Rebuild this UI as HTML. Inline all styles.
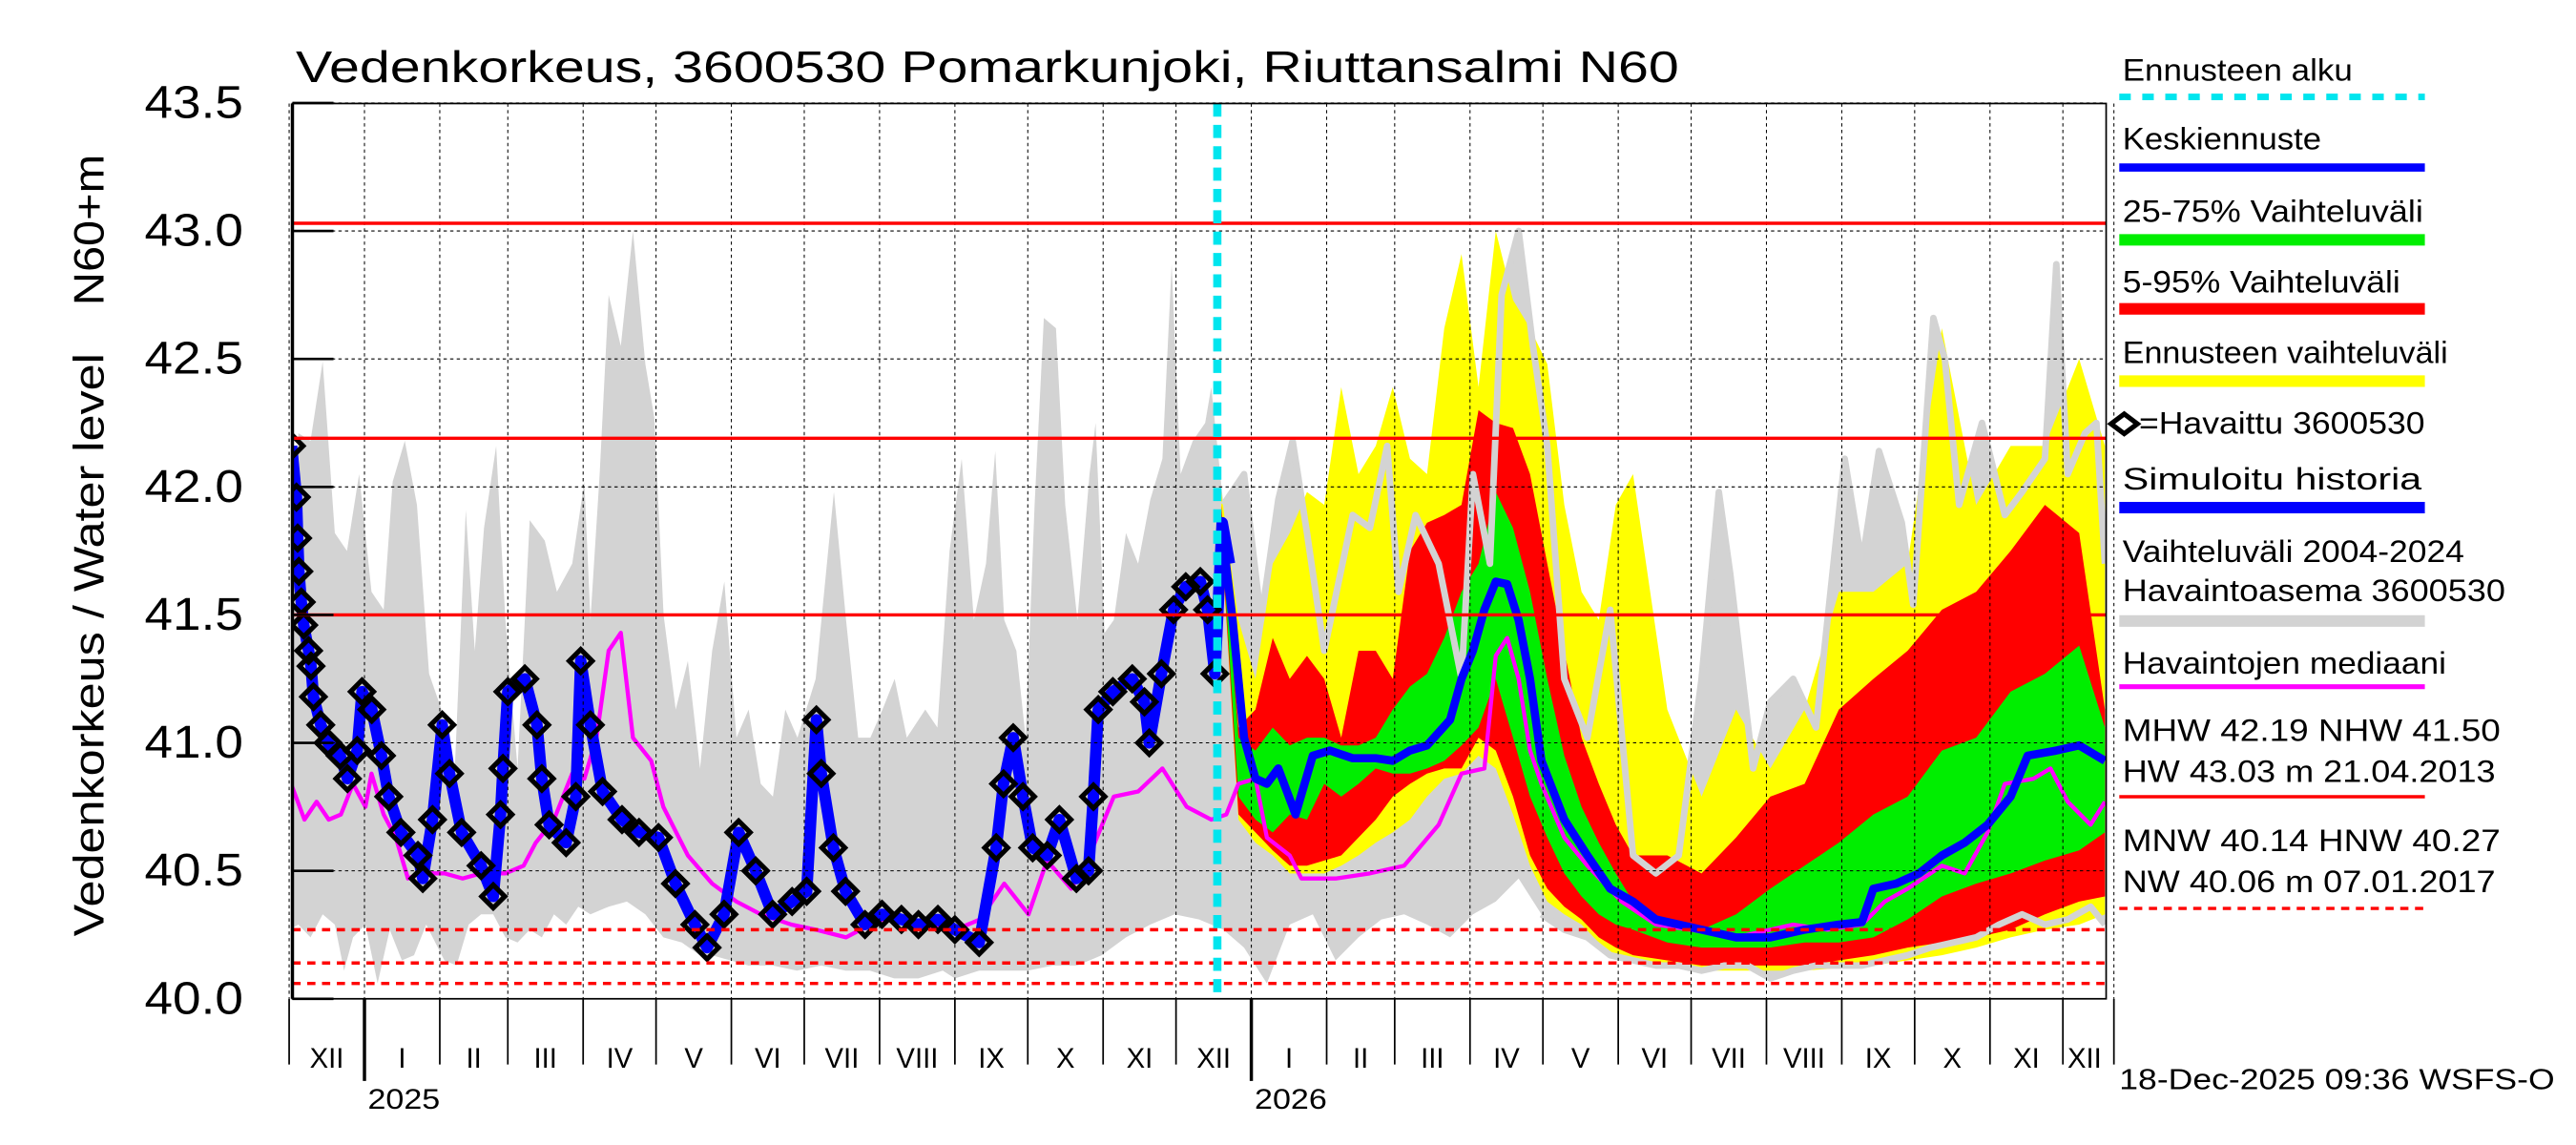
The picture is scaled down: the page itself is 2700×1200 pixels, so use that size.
<!DOCTYPE html>
<html><head><meta charset="utf-8"><style>
html,body{margin:0;padding:0;background:#fff}
svg{display:block}
text{font-family:"Liberation Sans",sans-serif;fill:#000}
</style></head><body>
<svg id="c" width="2700" height="1200" viewBox="0 0 1568 697" preserveAspectRatio="none" xmlns="http://www.w3.org/2000/svg">
<rect width="1568" height="697" fill="#fff"/>
<g id="plot"></g>
<text x="180" y="50" font-size="27" textLength="842" lengthAdjust="spacingAndGlyphs">Vedenkorkeus, 3600530 Pomarkunjoki, Riuttansalmi N60</text>
<text transform="translate(63,570) rotate(-90)" font-size="26" textLength="355" lengthAdjust="spacingAndGlyphs">Vedenkorkeus / Water level</text>
<text transform="translate(63,186) rotate(-90)" font-size="26" textLength="92" lengthAdjust="spacingAndGlyphs">N60+m</text>
<text x="1290" y="663" font-size="18" textLength="265" lengthAdjust="spacingAndGlyphs">18-Dec-2025 09:36 WSFS-O</text>
<g id="legend"></g>
</svg>
<script>
// ---- data ----
const yTicks=[40.0,40.5,41.0,41.5,42.0,42.5,43.0,43.5];
const monthStarts=[0,31,62,90,121,151,182,212,243,274,304,335,365,396,427,455,486,516,547,577,608,639,669,700,730,751];
const monthLabels=["XII","I","II","III","IV","V","VI","VII","VIII","IX","X","XI","XII","I","II","III","IV","V","VI","VII","VIII","IX","X","XI","XII"];
const refSolid=[43.03,42.19,41.50];
const refDashed=[40.27,40.14,40.06];
const forecastStartDay=382;
const histMaxDays=[0,3.8,8.8,13.8,18.8,23.8,28.8,33.9,38.9,42.6,47.6,52.6,57.6,62.7,67.7,72.7,76.4,80.2,85.2,89,94,99,105.2,110.2,116.5,121.5,124,127.8,131.5,136.5,141.5,146.6,150.3,154.1,159.1,164.1,169.1,174.1,179.1,184.1,189.1,194.1,199.1,204.2,209.2,216.7,224.2,229.2,234.2,239.2,244.2,249.2,254.2,261.8,266.8,271.8,276.8,281.8,286.8,290.6,294.3,299.3,303.1,306.8,310.6,315.6,319.4,324.4,329.4,331.9,335.6,339.4,344.4,349.4,354.4,359.4,363.2,366.9,371.9,377,379.5,384.5,393,400,407.1,413,418.9,426,437.7,444.8,451.9,456.6,463.6,473.1,482.5,487.2,494.2,499,506,511.9,517.8,524.8,534.3,543.7,553.1,562.5,571.9,581.3,588.4,593.1,602.5,609.6,619,628.4,640.2,647.3,654.3,663.7,668.4,676.7,681.4,687.3,696.7,706.1,713.2,722.6,727.3,732,739.1,743.8,747.3];
const histMax=[41.25,42.21,42.18,42.49,41.82,41.75,42.05,41.59,41.52,42.02,42.18,41.93,41.27,41.13,40.79,41.91,41.36,41.84,42.16,41.48,40.9,41.87,41.79,41.59,41.7,42.02,41.48,42.05,42.75,42.55,43.0,42.48,42.27,41.5,41.13,41.32,40.9,41.36,41.63,41.02,41.13,40.84,40.79,41.13,41.02,41.25,41.98,41.48,41.02,41.02,41.13,41.25,41.02,41.13,41.06,41.75,42.11,41.48,41.7,42.14,41.48,41.36,41.02,41.93,42.66,42.62,41.93,41.48,42.05,42.25,41.43,41.48,41.82,41.7,41.95,42.11,42.87,42.05,42.18,42.25,42.39,41.93,42.05,41.48,41.95,42.18,41.82,41.36,41.89,41.84,42.16,41.59,41.89,41.7,41.25,42.05,41.7,42.75,43.0,42.55,42.16,41.25,41.02,41.52,40.56,40.49,40.56,41.25,41.98,41.66,40.9,41.16,41.25,41.06,42.11,41.7,42.14,41.86,41.54,42.66,42.5,41.93,42.25,41.89,41.98,42.11,42.87,42.05,42.21,42.25,41.7];
const histMinDays=[0,3.8,8.8,13.8,18.8,22.6,26.3,31.4,36.4,41.4,46.4,51.4,56.4,63.9,68.9,73.9,79,84,89,94,99,104,109,114,119,124,131.5,139,146.6,154,161.6,169,174,181.6,189,199,209,219,229,239,249,259,269,274,284,294,304,314.4,324.4,334.4,344.4,354.4,364.4,374.5,384.5,393,402.4,411.8,421.3,430.7,440.1,449.5,458.9,468.3,477.8,487.2,496.6,506,515.4,524.8,534.3,543.7,553.1,562.5,571.9,581.3,590.8,600.2,609.6,619,628.4,637.8,647.3,656.7,666.1,675.5,685,694.3,703.7,713.2,722.6,732,741.4,747.3];
const histMin=[40.27,40.29,40.24,40.33,40.29,40.11,40.24,40.29,40.06,40.27,40.15,40.17,40.29,40.15,40.13,40.29,40.33,40.33,40.24,40.22,40.27,40.24,40.33,40.29,40.36,40.33,40.36,40.38,40.33,40.24,40.22,40.17,40.17,40.15,40.13,40.13,40.11,40.13,40.11,40.11,40.08,40.08,40.11,40.08,40.11,40.11,40.11,40.13,40.13,40.17,40.24,40.29,40.33,40.31,40.27,40.2,40.06,40.29,40.33,40.15,40.24,40.31,40.33,40.29,40.24,40.33,40.38,40.47,40.33,40.27,40.24,40.17,40.15,40.13,40.13,40.11,40.13,40.13,40.08,40.11,40.13,40.13,40.13,40.15,40.17,40.2,40.22,40.24,40.29,40.33,40.29,40.31,40.36,40.29];
const obsDays=[1,3,3.5,4,5,6,8,9,10,13,16,21,24,28,30,34,38,41,46,53,55,59,63,66,71,79,84,87,88,90,97,102,104,107,114,118,120,124,129,137,144,152,159,167,172,179,185,192,199,207,213,217,219,224,229,237,244,252,259,267,274,284,291,294,298,302,306,312,317,324,329,331,333,339,347,352,354,359,364,369,375,378,381];
const obsVals=[42.16,41.96,41.8,41.67,41.55,41.46,41.36,41.3,41.18,41.07,41.0,40.95,40.86,40.97,41.2,41.13,40.95,40.79,40.65,40.56,40.47,40.7,41.07,40.88,40.65,40.52,40.4,40.72,40.9,41.2,41.25,41.07,40.86,40.68,40.61,40.79,41.32,41.07,40.81,40.7,40.65,40.63,40.45,40.29,40.2,40.33,40.65,40.5,40.33,40.38,40.42,41.09,40.88,40.59,40.42,40.29,40.33,40.31,40.29,40.31,40.27,40.22,40.59,40.84,41.02,40.79,40.59,40.56,40.7,40.47,40.5,40.79,41.13,41.2,41.25,41.16,41.0,41.27,41.52,41.61,41.63,41.52,41.27];
const simTailDays=[381,384,387];
const simTailVals=[41.27,41.86,41.7];
const fcDays=[383.6,390.7,397.7,404.8,411.8,418.9,426,433,440.1,447.2,454.2,461.3,468.3,475.4,482.5,489.5,496.6,503.7,510.7,517.8,524.8,531.9,539,546,553.1,567.2,581.3,595.5,609.6,623.7,637.8,652,666.1,680.2,694.3,708.5,722.6,736.7,747.3];
const yelMax=[41.98,41.48,41.25,41.70,41.82,41.98,41.93,42.39,42.05,42.16,42.39,42.11,42.05,42.62,42.91,42.39,43.0,42.73,42.62,42.48,41.93,41.59,41.48,41.93,42.05,41.13,40.79,41.13,40.90,41.13,41.59,41.59,41.70,42.62,41.93,42.16,42.16,42.50,42.16];
const redMax=[41.93,41.06,41.13,41.41,41.25,41.34,41.25,41.02,41.36,41.36,41.25,41.75,41.86,41.89,41.93,42.30,42.25,42.23,42.05,41.70,41.36,41.02,40.84,40.68,40.56,40.56,40.49,40.63,40.79,40.84,41.13,41.25,41.36,41.52,41.59,41.75,41.93,41.82,41.13];
const grnMax=[41.89,41.02,40.97,41.06,40.99,41.02,41.02,40.99,40.99,41.02,41.13,41.22,41.27,41.41,41.59,41.70,41.98,41.84,41.59,41.25,40.95,40.75,40.61,40.49,40.38,40.29,40.27,40.33,40.43,40.52,40.61,40.72,40.79,40.97,41.02,41.20,41.27,41.38,41.06];
const grnMin=[41.84,40.79,40.70,40.65,40.72,40.70,40.84,40.79,40.84,40.90,40.88,40.88,40.90,40.93,40.99,41.06,41.25,41.02,40.79,40.63,40.49,40.40,40.33,40.29,40.27,40.22,40.20,40.20,40.20,40.22,40.22,40.24,40.31,40.40,40.45,40.49,40.54,40.58,40.65];
const redMin=[41.82,40.72,40.65,40.58,40.52,40.52,40.54,40.56,40.63,40.70,40.79,40.84,40.88,40.90,40.90,41.02,40.97,40.79,40.56,40.43,40.36,40.31,40.24,40.20,40.17,40.15,40.13,40.13,40.13,40.13,40.15,40.17,40.20,40.22,40.24,40.27,40.33,40.38,40.40];
const yelMin=[41.80,40.70,40.61,40.56,40.49,40.49,40.49,40.52,40.56,40.61,40.65,40.70,40.79,40.86,40.88,40.95,40.90,40.72,40.52,40.38,40.33,40.29,40.22,40.17,40.15,40.13,40.11,40.11,40.11,40.11,40.12,40.13,40.15,40.17,40.20,40.24,40.27,40.29,40.33];
const medDays=[383.6,388.3,393,397.7,402.4,407.1,414.2,421.3,428.3,437.7,447.2,454.2,461.3,468.3,477.8,482.5,487.2,491.9,496.6,501.3,506,510.7,515.4,524.8,534.3,543.7,553.1,562.5,571.9,581.3,595.5,609.6,623.7,637.8,647.3,652,661.4,670.8,680.2,689.6,699,708.5,715.5,727.3,736.7,747.3];
const medVals=[41.86,41.48,41.02,40.86,40.84,40.90,40.72,40.95,40.97,40.94,40.94,40.93,40.97,40.99,41.09,41.25,41.36,41.52,41.63,41.62,41.48,41.25,40.93,40.70,40.56,40.43,40.38,40.31,40.29,40.27,40.24,40.24,40.27,40.29,40.30,40.43,40.45,40.49,40.56,40.61,40.68,40.79,40.95,40.97,40.99,40.93];
const mDays=[0,6.3,11.3,16.3,21.3,26.3,31.4,33.9,38.9,43.9,48.9,53.9,63.9,71.4,79,89,96.5,101.5,109,116.5,121.5,126.5,131.5,136.5,141.5,149,154,164.1,174.1,184.1,194.1,206.7,216.7,229.2,239.2,249.2,259.3,274.3,284.3,294.3,304.3,311.9,321.9,329.4,339.4,349.4,359.4,369.4,379.5,385.7,390.7,397.7,402.4,411.8,416.6,430.7,444.8,458.9,473.1,482.5,491.9,496.6,501.3,506,510.7,515.4,524.8,534.3,548.4,562.5,576.6,595.5,609.6,619,633.1,647.3,656.7,666.1,680.2,689.6,699,706.1,717.9,724.9,732,741.4,747.3];
const mVals=[40.86,40.70,40.77,40.70,40.72,40.84,40.75,40.88,40.72,40.63,40.47,40.49,40.49,40.47,40.49,40.49,40.52,40.61,40.70,40.88,40.86,41.02,41.36,41.43,41.02,40.93,40.75,40.56,40.45,40.38,40.33,40.29,40.27,40.24,40.29,40.33,40.29,40.27,40.31,40.45,40.33,40.54,40.43,40.56,40.79,40.81,40.90,40.75,40.70,40.72,40.84,40.86,40.63,40.56,40.47,40.47,40.49,40.52,40.68,40.88,40.90,41.34,41.41,41.25,40.97,40.84,40.63,40.52,40.38,40.29,40.27,40.24,40.27,40.29,40.27,40.29,40.38,40.43,40.52,40.49,40.65,40.84,40.86,40.90,40.77,40.68,40.77];
// ---- scales ----
const X0=176,PX=1.479,L=178,R=1282,T=63,B=608;
const xs=d=>X0+d*PX, ys=v=>608-(v-40)*155.8;
const NS="http://www.w3.org/2000/svg";
const plot=document.getElementById('plot');
function mk(tag,attrs,parent){const e=document.createElementNS(NS,tag);for(const k in attrs)e.setAttribute(k,attrs[k]);(parent||plot).appendChild(e);return e;}
const clip=mk('clipPath',{id:'cp'});mk('rect',{x:L,y:T,width:R-L,height:B-T},clip);
const g=mk('g',{'clip-path':'url(#cp)'});
function band(dh,hi,dl,lo,color,name){
 let p=dh.map((d,i)=>xs(d)+','+ys(hi[i])).join(' ')+' '+dl.map((d,i)=>xs(d)+','+ys(lo[i])).reverse().join(' ');
 const e=mk('polygon',{points:p,fill:color},g);
 
 
}
function line(days,vals,color,w,name){
 const e=mk('polyline',{points:days.map((d,i)=>xs(d)+','+ys(vals[i])).join(' '),fill:'none',stroke:color,'stroke-width':w,'stroke-linejoin':'round'},g);
 
 
}
band(histMaxDays,histMax,histMinDays,histMin,'#d3d3d3','history-range-band');
band(fcDays,yelMax,fcDays,yelMin,'#ffff00','forecast-range-band');
band(fcDays,redMax,fcDays,redMin,'#ff0000','band-5-95');
band(fcDays,grnMax,fcDays,grnMin,'#00ee00','band-25-75');
const fi=histMaxDays.findIndex(d=>d>=384);
line(histMaxDays.slice(fi),histMax.slice(fi),'#d3d3d3',4,'history-max-trace');
const fj=histMinDays.findIndex(d=>d>=515);
line(histMinDays.slice(fj),histMin.slice(fj),'#d3d3d3',4,'history-min-trace');
// grid
yTicks.forEach(v=>{mk('line',{x1:L,x2:R,y1:ys(v),y2:ys(v),stroke:'#000','stroke-width':0.6,'stroke-dasharray':'2,2'});});
monthStarts.forEach(d=>{mk('line',{x1:xs(d),x2:xs(d),y1:T,y2:B,stroke:'#000','stroke-width':0.6,'stroke-dasharray':'2,2'});});
refSolid.forEach(v=>{const e=mk('line',{x1:L,x2:R,y1:ys(v),y2:ys(v),stroke:'#f00','stroke-width':2});});
refDashed.forEach(v=>{const e=mk('line',{x1:L,x2:R,y1:ys(v),y2:ys(v),stroke:'#f00','stroke-width':2,'stroke-dasharray':'5,4'});});
line(mDays,mVals,'#ff00ff',2.5,'observed-median-line');
line(medDays,medVals,'#0000ff',5,'forecast-median-line');
line(obsDays.concat(simTailDays),obsVals.concat(simTailVals),'#0000ff',7,'simulated-history-line');
obsDays.forEach((d,i)=>{const x=xs(d),y=ys(obsVals[i]);
 const e=mk('polygon',{points:`${x-7},${y} ${x},${y-7} ${x+7},${y} ${x},${y+7}`,fill:'none',stroke:'#000','stroke-width':3},g);
 
 
});
const fl=mk('line',{x1:xs(forecastStartDay),x2:xs(forecastStartDay),y1:T,y2:B,stroke:'#00e5ee','stroke-width':5,'stroke-dasharray':'8,5'});


// axes
mk('rect',{x:L,y:T,width:R-L,height:B-T,fill:'none',stroke:'#000','stroke-width':1});
mk('line',{x1:L,x2:L,y1:T,y2:B,stroke:'#000','stroke-width':2});
yTicks.forEach(v=>{mk('line',{x1:L,x2:L+25,y1:ys(v),y2:ys(v),stroke:'#000','stroke-width':1.5});
 const t=mk('text',{x:148,y:ys(v)+9,'text-anchor':'end','font-size':28,textLength:60,lengthAdjust:'spacingAndGlyphs'});t.textContent=v.toFixed(1);
 });
monthStarts.forEach((d,i)=>{const long=(d===31||d===396);
 mk('line',{x1:xs(d),x2:xs(d),y1:B,y2:long?B+50:B+40,stroke:'#000','stroke-width':long?2:1});
 if(i<monthLabels.length){const c=(xs(d)+Math.min(xs(monthStarts[i+1]),R))/2;
 const t=mk('text',{x:c,y:B+42,'text-anchor':'middle','font-size':17});t.textContent=monthLabels[i];
 }});
[['2025',31],['2026',396]].forEach(([y,d])=>{const t=mk('text',{x:xs(d)+2,y:B+67,'font-size':17,textLength:44,lengthAdjust:'spacingAndGlyphs'});t.textContent=y;
 });
// legend
const lg=document.getElementById('legend');
const items=[["Ennusteen alku",49,140,"#00e5ee",4,'7,7',59],["Keskiennuste",91,121,"#0000ff",5,null,102],["25-75% Vaihteluväli",135,183,"#00ee00",7,null,146],["5-95% Vaihteluväli",178,169,"#ff0000",7,null,188],["Ennusteen vaihteluväli",221,198,"#ffff00",7,null,232],["Simuloitu historia",298,182,"#0000ff",7,null,309],["Vaihteluväli 2004-2024",342,208,null],["Havaintoasema 3600530",366,233,"#d3d3d3",7,null,378],["Havaintojen mediaani",410,197,"#ff00ff",3,null,418],["MHW  42.19 NHW  41.50",451,230,null],["HW  43.03 m 21.04.2013",476,227,"#ff0000",2,null,485],["MNW  40.14 HNW  40.27",518,230,null],["NW  40.06 m 07.01.2017",543,227,"#ff0000",2,'5,4',553]];
items.forEach(it=>{const t=mk('text',{x:1292,y:it[1],'font-size':19,textLength:it[2],lengthAdjust:'spacingAndGlyphs'},lg);t.textContent=it[0];
 
 if(it[3]){const a={x1:1290,x2:1476,y1:it[6],y2:it[6],stroke:it[3],'stroke-width':it[4]};if(it[5])a['stroke-dasharray']=it[5];mk('line',a,lg);}});
const t=mk('text',{x:1302,y:264,'font-size':19,textLength:174,lengthAdjust:'spacingAndGlyphs'},lg);t.textContent="=Havaittu 3600530";

mk('polygon',{points:'1285,258 1293,252 1301,258 1293,264',fill:'none',stroke:'#000','stroke-width':3},lg);
</script>
</body></html>
